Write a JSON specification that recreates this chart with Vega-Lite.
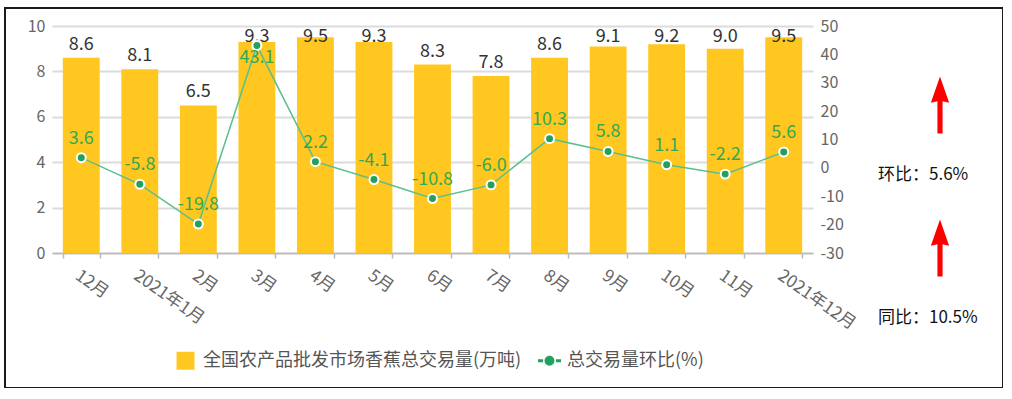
{
  "$schema": "https://vega.github.io/schema/vega-lite/v6.json",
  "width": 998,
  "height": 380,
  "autosize": {"type": "none"},
  "padding": {"left": 5, "top": 8, "right": 0, "bottom": 0},
  "background": "white",
  "config": {
    "view": {"stroke": "#1a1a1a", "strokeWidth": 2},
    "font": "Noto Sans CJK SC",
    "axis": {"labelFont": "Noto Sans CJK SC", "title": null},
    "locale": {"number": {"decimal": ".", "thousands": ",", "grouping": [3], "currency": ["", ""], "minus": "-"}}
  },
  "layer": [
    {
      "data": {
        "values": [
          {"月份": "12月", "交易量": 8.6, "环比": 3.6, "系列": "总交易量环比(%)"},
          {"月份": "2021年1月", "交易量": 8.1, "环比": -5.8, "系列": "总交易量环比(%)"},
          {"月份": "2月", "交易量": 6.5, "环比": -19.8, "系列": "总交易量环比(%)"},
          {"月份": "3月", "交易量": 9.3, "环比": 43.1, "系列": "总交易量环比(%)"},
          {"月份": "4月", "交易量": 9.5, "环比": 2.2, "系列": "总交易量环比(%)"},
          {"月份": "5月", "交易量": 9.3, "环比": -4.1, "系列": "总交易量环比(%)"},
          {"月份": "6月", "交易量": 8.3, "环比": -10.8, "系列": "总交易量环比(%)"},
          {"月份": "7月", "交易量": 7.8, "环比": -6.0, "系列": "总交易量环比(%)"},
          {"月份": "8月", "交易量": 8.6, "环比": 10.3, "系列": "总交易量环比(%)"},
          {"月份": "9月", "交易量": 9.1, "环比": 5.8, "系列": "总交易量环比(%)"},
          {"月份": "10月", "交易量": 9.2, "环比": 1.1, "系列": "总交易量环比(%)"},
          {"月份": "11月", "交易量": 9.0, "环比": -2.2, "系列": "总交易量环比(%)"},
          {"月份": "2021年12月", "交易量": 9.5, "环比": 5.6, "系列": "总交易量环比(%)"}
        ]
      },
      "encoding": {
        "x": {
          "field": "月份",
          "type": "nominal",
          "sort": null,
          "scale": {"range": [47, 808], "paddingInner": 0.37, "paddingOuter": 0.185},
          "axis": {
            "orient": "bottom",
            "offset": -135,
            "labelAngle": 35,
            "labelAlign": "left",
            "labelBaseline": "top",
            "labelPadding": 9,
            "labelFontSize": 17,
            "labelColor": "#666666",
            "domainColor": "#bbbbbb",
            "domainWidth": 1.5,
            "tickColor": "#bbbbbb",
            "tickSize": 5,
            "tickWidth": 1.5,
            "tickBand": "extent",
            "grid": false
          }
        }
      },
      "layer": [
        {
          "mark": {"type": "bar", "color": "#FFC720"},
          "encoding": {
            "y": {
              "field": "交易量",
              "type": "quantitative",
              "scale": {"domain": [0, 10], "range": [245, 18], "nice": false},
              "axis": {
                "orient": "left",
                "offset": -47,
                "values": [0, 2, 4, 6, 8, 10],
                "domain": false,
                "ticks": false,
                "grid": true,
                "gridColor": "#dcdcdc",
                "gridWidth": 2,
                "labelPadding": 7,
                "labelFontSize": 16,
                "labelColor": "#666666"
              }
            }
          }
        },
        {
          "mark": {"type": "text", "baseline": "bottom", "dy": -4, "fontSize": 18, "fill": "#333333"},
          "encoding": {
            "y": {
              "field": "交易量",
              "type": "quantitative",
              "scale": {"domain": [0, 8.96], "range": [245, 41.6], "nice": false, "clamp": true},
              "axis": null
            },
            "text": {"field": "交易量", "type": "quantitative", "format": ".1f"}
          }
        },
        {
          "encoding": {
            "y": {
              "field": "环比",
              "type": "quantitative",
              "scale": {"domain": [-30, 50], "range": [245, 18], "nice": false},
              "axis": {
                "orient": "right",
                "offset": -190,
                "values": [-30, -20, -10, 0, 10, 20, 30, 40, 50],
                "domain": false,
                "ticks": false,
                "grid": false,
                "labelPadding": 7,
                "labelFontSize": 16,
                "labelColor": "#666666"
              }
            }
          },
          "layer": [
            {"mark": {"type": "line", "color": "#5cbf8a", "strokeWidth": 1.5}},
            {
              "mark": {"type": "point", "filled": true, "size": 8, "opacity": 1},
              "encoding": {
                "color": {
                  "field": "系列",
                  "type": "nominal",
                  "scale": {"domain": ["全国农产品批发市场香蕉总交易量(万吨)", "总交易量环比(%)"], "range": ["#FFC720", "#22a05e"]},
                  "legend": {
                    "orient": "none",
                    "direction": "horizontal",
                    "legendX": 169,
                    "legendY": 341,
                    "title": null,
                    "padding": 0,
                    "symbolSize": 529,
                    "symbolStrokeWidth": 0,
                    "labelFontSize": 18,
                    "labelLimit": 500,
                    "labelColor": "#555555",
                    "labelOffset": 6,
                    "columnPadding": 16
                  }
                },
                "shape": {
                  "field": "系列",
                  "type": "nominal",
                  "scale": {
                    "domain": ["全国农产品批发市场香蕉总交易量(万吨)", "总交易量环比(%)"],
                    "range": [
                      "M-0.78,-0.78H0.78V0.78H-0.78Z",
                      "M-1,-0.12H-0.56V0.12H-1Z M0.56,-0.12H1V0.12H0.56Z M-0.43,0A0.43,0.43 0 1,0 0.43,0A0.43,0.43 0 1,0 -0.43,0Z"
                    ]
                  }
                }
              }
            },
            {"mark": {"type": "point", "shape": "circle", "filled": true, "size": 80, "fill": "#22a05e", "stroke": "white", "strokeWidth": 2, "opacity": 1}}
          ]
        },
        {
          "mark": {"type": "text", "baseline": "bottom", "dy": -10, "fontSize": 18, "fill": "#35a852"},
          "encoding": {
            "y": {
              "field": "环比",
              "type": "quantitative",
              "scale": {"domain": [-30, 32], "range": [245, 69.1], "nice": false, "clamp": true},
              "axis": null
            },
            "text": {"field": "环比", "type": "quantitative", "format": ".1f"}
          }
        }
      ],
      "resolve": {"scale": {"y": "independent"}}
    },
    {
      "data": {
        "values": [
          {"指标": "环比", "文字": "环比：5.6%"},
          {"指标": "同比", "文字": "同比：10.5%"}
        ]
      },
      "encoding": {
        "y": {
          "field": "指标",
          "type": "nominal",
          "sort": null,
          "scale": {"type": "point", "domain": ["环比", "同比"], "range": [167, 310], "padding": 0},
          "axis": null
        }
      },
      "layer": [
        {
          "mark": {"type": "text", "align": "left", "baseline": "middle", "fontSize": 17, "fill": "#111111"},
          "encoding": {
            "x": {"datum": "文字", "type": "nominal", "scale": {"type": "point", "domain": ["文字", "箭头"], "range": [873, 935], "padding": 0}, "axis": null},
            "text": {"field": "文字", "type": "nominal"}
          }
        },
        {
          "mark": {
            "type": "point",
            "filled": true,
            "opacity": 1,
            "fill": "#ff0000",
            "size": 3249,
            "yOffset": -70,
            "shape": "M0,-1L0.32,-0.08L0.09,-0.13L0.09,1L-0.09,1L-0.09,-0.13L-0.32,-0.08Z"
          },
          "encoding": {
            "x": {"datum": "箭头", "type": "nominal", "scale": {"type": "point", "domain": ["文字", "箭头"], "range": [873, 935], "padding": 0}, "axis": null}
          }
        }
      ]
    }
  ],
  "resolve": {"scale": {"x": "independent", "y": "independent"}}
}
